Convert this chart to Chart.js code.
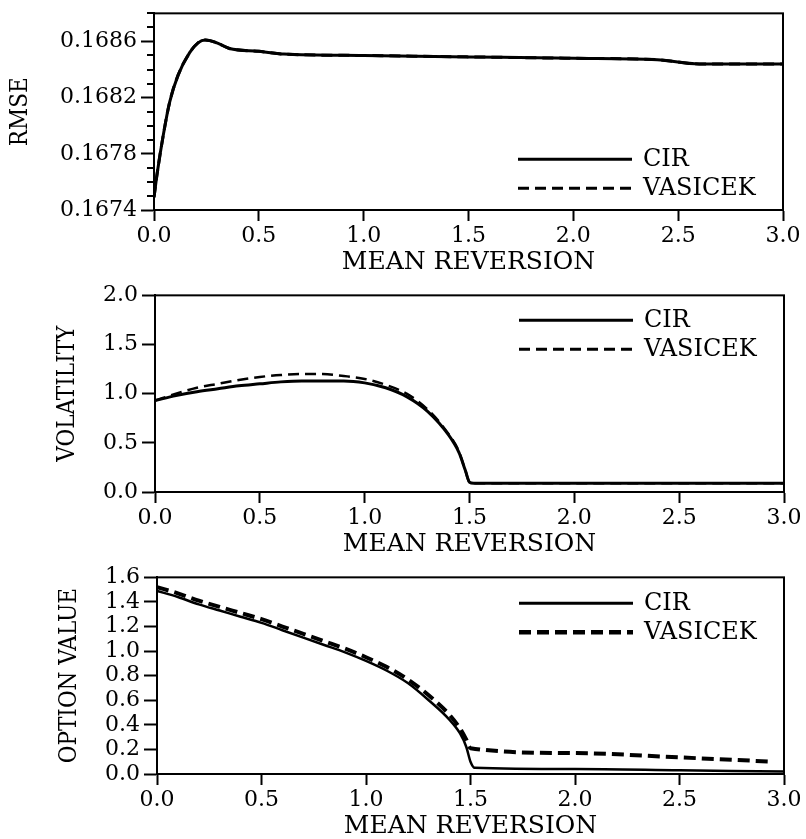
<!DOCTYPE html>
<html>
<head>
<meta charset="utf-8">
<title>Mean reversion: CIR vs Vasicek</title>
<script src="https://cdn.jsdelivr.net/npm/chart.js@4.4.1/dist/chart.umd.min.js"></script>
<style>
  html, body { margin: 0; padding: 0; background: #fff; overflow: hidden; }
  .panel { position: absolute; left: 0; width: 806px; height: 282px; }
</style>
</head>
<body>
<div class="panel" style="top:0px"><canvas id="rmseChart" width="806" height="282"></canvas></div>
<div class="panel" style="top:282px"><canvas id="volChart" width="806" height="282"></canvas></div>
<div class="panel" style="top:564px"><canvas id="optChart" width="806" height="282"></canvas></div>

<script>
// ---- Data ----
const SERIES_LABELS = ['CIR', 'VASICEK'];
const X_TITLE = 'MEAN REVERSION';
const xTickValues = [0, 0.5, 1.0, 1.5, 2.0, 2.5, 3.0];

// Panel 1: RMSE (both models sit on the same curve)
const rmseX       = [0, 0.015, 0.045, 0.075, 0.115, 0.17, 0.21, 0.245, 0.3, 0.36, 0.5, 0.62, 1.0, 1.5, 2.0, 2.4, 2.6, 3.0];
const rmseCir     = [0.16749, 0.16766, 0.16794, 0.16817, 0.16836, 0.16852, 0.16859, 0.16861, 0.16859, 0.16855, 0.16853, 0.16851, 0.16850, 0.16849, 0.16848, 0.16847, 0.16844, 0.16844];
const rmseVasicek = [0.16749, 0.16766, 0.16794, 0.16817, 0.16836, 0.16852, 0.16859, 0.16861, 0.16859, 0.16855, 0.16853, 0.16851, 0.16850, 0.16849, 0.16848, 0.16847, 0.16844, 0.16844];
const rmseTicks = [0.1674, 0.1675, 0.1676, 0.1677, 0.1678, 0.1679, 0.1680, 0.1681, 0.1682, 0.1683, 0.1684, 0.1685, 0.1686, 0.1687, 0.1688];
const rmseTickLabels = ['0.1674', '0.1678', '0.1682', '0.1686'];

// Panel 2: volatility
const volX       = [0, 0.1, 0.2, 0.3, 0.4, 0.5, 0.6, 0.7, 0.8, 0.9, 1.0, 1.1, 1.2, 1.3, 1.4, 1.45, 1.48, 1.5, 1.52, 2.0, 3.0];
const volCir     = [0.93, 0.98, 1.02, 1.05, 1.08, 1.10, 1.12, 1.13, 1.13, 1.13, 1.11, 1.06, 0.97, 0.82, 0.58, 0.40, 0.22, 0.10, 0.09, 0.09, 0.09];
const volVasicek = [0.93, 1.00, 1.06, 1.10, 1.14, 1.17, 1.19, 1.20, 1.20, 1.18, 1.15, 1.09, 1.00, 0.84, 0.59, 0.41, 0.22, 0.10, 0.09, 0.09, 0.09];
const volTicks = [0, 0.5, 1.0, 1.5, 2.0];

// Panel 3: option value
const optX       = [0, 0.1, 0.2, 0.3, 0.4, 0.5, 0.6, 0.7, 0.8, 0.9, 1.0, 1.1, 1.2, 1.3, 1.4, 1.45, 1.48, 1.5, 1.52, 2.0, 2.5, 3.0];
const optCir     = [1.49, 1.44, 1.38, 1.33, 1.28, 1.23, 1.17, 1.11, 1.05, 0.99, 0.92, 0.84, 0.74, 0.60, 0.44, 0.33, 0.22, 0.10, 0.05, 0.04, 0.03, 0.02];
const optVasX    = [0, 0.1, 0.2, 0.3, 0.4, 0.5, 0.6, 0.7, 0.8, 0.9, 1.0, 1.1, 1.2, 1.3, 1.4, 1.45, 1.48, 1.5, 2.0, 2.5, 2.95];
const optVasicek = [1.52, 1.47, 1.41, 1.36, 1.31, 1.26, 1.20, 1.14, 1.08, 1.02, 0.95, 0.87, 0.77, 0.64, 0.48, 0.37, 0.28, 0.21, 0.17, 0.135, 0.10];
const optTicks = [0, 0.2, 0.4, 0.6, 0.8, 1.0, 1.2, 1.4, 1.6];

// ---- Shared styling ----
const SERIF = "'DejaVu Serif', serif";
const tickFontX = { family: SERIF, size: 22, lineHeight: 1.2 };
const tickFontY = { family: SERIF, size: 22, lineHeight: 0.85 };
const xTitleFont = { family: SERIF, size: 25, lineHeight: 1.2 };
const yTitleFont = { family: "'DejaVu Serif Condensed', 'DejaVu Serif', serif", size: 24, lineHeight: 1.2 };

const toPoints = (xs, ys) => xs.map((x, i) => ({ x, y: ys[i] }));

// frame round the plot, inline legend, short minor ticks
const panelDecor = {
  id: 'panelDecor',
  afterDatasetsDraw(chart, args, opts) {
    const { ctx, chartArea: a } = chart;
    ctx.save();
    ctx.strokeStyle = '#000';
    ctx.lineWidth = 2;
    ctx.strokeRect(a.left, a.top, a.right - a.left, a.bottom - a.top);

    ctx.font = `24px ${SERIF}`;
    ctx.textBaseline = 'middle';
    ctx.fillStyle = '#000';
    chart.data.datasets.forEach((ds, i) => {
      const y = a.top + opts.legendTop + i * 29;
      ctx.beginPath();
      ctx.setLineDash(ds.borderDash || []);
      ctx.lineWidth = ds.legendWidth || ds.borderWidth;
      ctx.moveTo(a.right - 265, y);
      ctx.lineTo(a.right - 151, y);
      ctx.stroke();
      ctx.setLineDash([]);
      ctx.fillText(ds.label, a.right - 140, y);
    });
    ctx.restore();
  },
  afterDraw(chart) {
    const y = chart.scales.y;
    const { ctx } = chart;
    ctx.save();
    ctx.strokeStyle = '#000';
    ctx.lineWidth = 2;
    y.ticks.forEach((t) => {
      if (t.label !== '') return;
      const py = Math.round(y.getPixelForValue(t.value));
      ctx.beginPath();
      ctx.moveTo(y.right - 7, py);
      ctx.lineTo(y.right, py);
      ctx.stroke();
    });
    ctx.restore();
  },
};

function makePanel(canvasId, cfg) {
  const [cir, vas] = cfg.series;
  new Chart(document.getElementById(canvasId), {
    type: 'scatter',
    data: {
      datasets: [
        {
          label: SERIES_LABELS[0],
          data: toPoints(cir.x, cir.y),
          showLine: true,
          borderColor: '#000',
          borderWidth: cir.width,
          legendWidth: cir.legendWidth,
          pointRadius: 0,
          cubicInterpolationMode: 'monotone',
        },
        {
          label: SERIES_LABELS[1],
          data: toPoints(vas.x, vas.y),
          showLine: true,
          borderColor: '#000',
          borderWidth: vas.width,
          legendWidth: vas.legendWidth,
          borderDash: vas.dash,
          pointRadius: 0,
          cubicInterpolationMode: 'monotone',
        },
      ],
    },
    options: {
      responsive: false,
      animation: false,
      layout: { padding: { top: 10, right: cfg.rightPad, left: 0, bottom: 0 } },
      plugins: {
        legend: { display: false },
        tooltip: { enabled: false },
        panelDecor: { legendTop: cfg.legendTop },
      },
      scales: {
        x: {
          type: 'linear',
          min: 0,
          max: 3,
          afterBuildTicks: (s) => { s.ticks = xTickValues.map((v) => ({ value: v })); },
          ticks: { callback: (v) => v.toFixed(1), color: '#000', font: tickFontX, padding: 2, maxRotation: 0, autoSkip: false },
          grid: { drawOnChartArea: false, tickLength: 11, tickWidth: 2, tickColor: '#000' },
          border: { color: '#000', width: 2 },
          title: { display: true, text: X_TITLE, color: '#000', font: xTitleFont, padding: { top: 0, bottom: 5 } },
          afterFit: (s) => { s.height = 72; },
        },
        y: {
          type: 'linear',
          min: cfg.yMin,
          max: cfg.yMax,
          afterBuildTicks: (s) => { s.ticks = cfg.yTicks.map((v) => ({ value: v })); },
          ticks: { callback: cfg.yLabel, color: '#000', font: tickFontY, padding: 4, autoSkip: false },
          grid: {
            drawOnChartArea: false,
            tickLength: 13,
            tickWidth: 2,
            tickColor: (c) => (c.tick && c.tick.label === '' ? 'rgba(0,0,0,0)' : '#000'),
          },
          border: { color: '#000', width: 2 },
          title: { display: true, text: cfg.yTitle, color: '#000', font: yTitleFont, padding: { top: cfg.yTitlePad, bottom: 0 } },
          afterFit: (s) => { s.width = cfg.leftWidth; },
        },
      },
    },
    plugins: [panelDecor],
  });
}

makePanel('rmseChart', {
  series: [
    { x: rmseX, y: rmseCir, width: 3, legendWidth: 3 },
    { x: rmseX, y: rmseVasicek, width: 3, legendWidth: 3, dash: [11, 6] },
  ],
  yMin: 0.1674,
  yMax: 0.1688,
  yTicks: rmseTicks,
  yLabel: (v) => (rmseTickLabels.includes(v.toFixed(4)) ? v.toFixed(4) : ''),
  yTitle: 'RMSE',
  yTitlePad: 6,
  leftWidth: 154,
  rightPad: 23,
  legendTop: 146,
});

makePanel('volChart', {
  series: [
    { x: volX, y: volCir, width: 3, legendWidth: 3 },
    { x: volX, y: volVasicek, width: 2.5, legendWidth: 3, dash: [11, 6] },
  ],
  yMin: 0,
  yMax: 2,
  yTicks: volTicks,
  yLabel: (v) => v.toFixed(1),
  yTitle: 'VOLATILITY',
  yTitlePad: 53,
  leftWidth: 155,
  rightPad: 22,
  legendTop: 25,
});

makePanel('optChart', {
  series: [
    { x: optX, y: optCir, width: 2.5, legendWidth: 3 },
    { x: optVasX, y: optVasicek, width: 4, legendWidth: 4.5, dash: [12, 6] },
  ],
  yMin: 0,
  yMax: 1.6,
  yTicks: optTicks,
  yLabel: (v) => v.toFixed(1),
  yTitle: 'OPTION VALUE',
  yTitlePad: 55,
  leftWidth: 157,
  rightPad: 22,
  legendTop: 26,
});
</script>
</body>
</html>
